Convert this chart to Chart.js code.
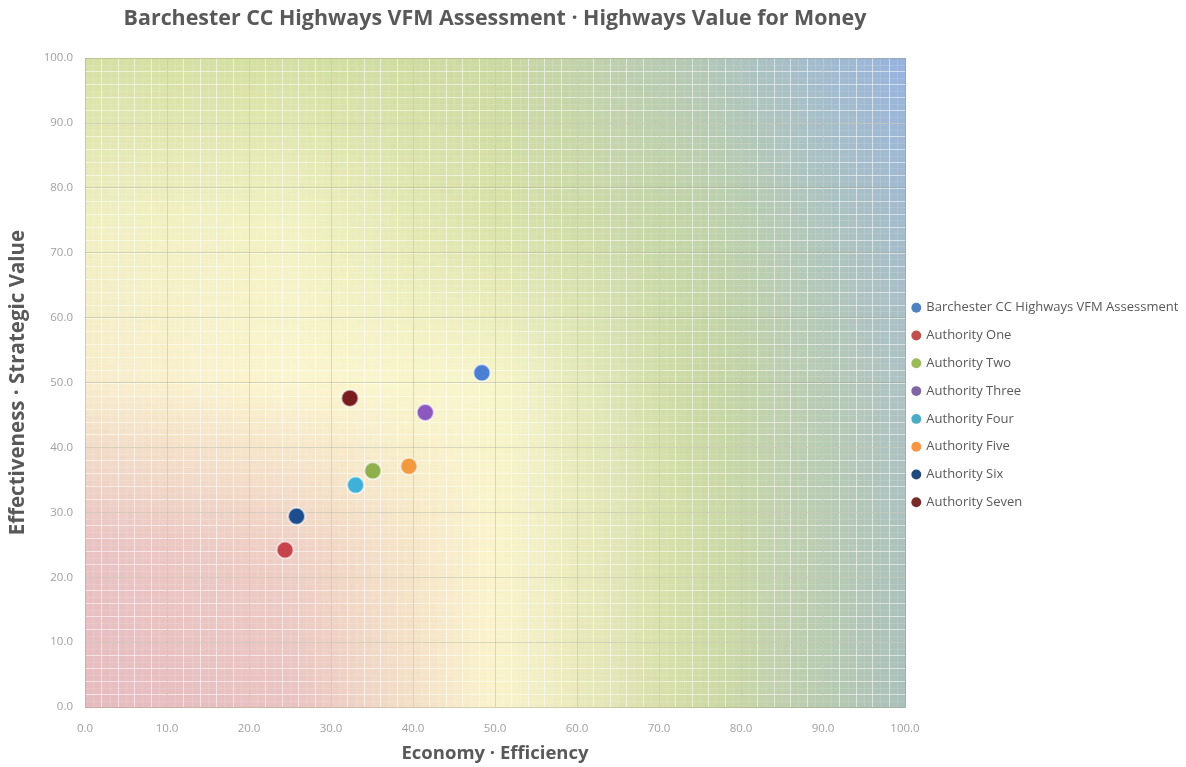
<!DOCTYPE html>
<html>
<head>
<meta charset="utf-8">
<script src="https://cdn.jsdelivr.net/npm/chart.js@4.4.1/dist/chart.umd.min.js"></script>
<style>
  html, body { margin: 0; padding: 0; background: #fff; }
  #wrap { width: 1186px; height: 767px; }
</style>
</head>
<body>
<div id="wrap"><canvas id="vfm"></canvas></div>
<script>
// series names, colours and the single (economy, effectiveness) point for each
const seriesNames = [
    'Barchester CC Highways VFM Assessment',
    'Authority One',
    'Authority Two',
    'Authority Three',
    'Authority Four',
    'Authority Five',
    'Authority Six',
    'Authority Seven'
];
const economyValues = [48.4, 24.4, 35.1, 41.5, 33.0, 39.5, 25.8, 32.3];
const effectivenessValues = [51.5, 24.2, 36.4, 45.4, 34.2, 37.1, 29.4, 47.6];
const seriesColors = ['#4a7fd2', '#c8444c', '#8fb04c', '#8a58bf', '#3fb0d8', '#f29a3e', '#1d4d8c', '#781c1e'];
const legendColors = ['#4f81bd', '#c0504d', '#9bbb59', '#8064a2', '#4bacc6', '#f79646', '#1f497d', '#772c2a'];
const axisTicks = [0, 10, 20, 30, 40, 50, 60, 70, 80, 90, 100];

// background colour field (columns x = 0,25,50,75,100; rows y = 0..100)
const bgField = [
    ['#e6bbc0', '#e9c2c2', '#faf3cc', '#d0dba4', '#a9c0bb'],
    ['#e9c2c3', '#efd0c5', '#faf4cb', '#d0dca5', '#abc1bd'],
    ['#f7eccc', '#fbf5ce', '#f7f5ca', '#c9d8a2', '#adc2c3'],
    ['#f0efc2', '#f1f1c2', '#d9e2a8', '#c1d3a8', '#a3bbcc'],
    ['#d6e0a4', '#d4dfa2', '#ccd9a2', '#b3c7b7', '#97b3df']
];

function hexRgb(h) {
    return [parseInt(h.substr(1, 2), 16), parseInt(h.substr(3, 2), 16), parseInt(h.substr(5, 2), 16)];
}
const bgRgb = bgField.map(row => row.map(hexRgb));

function fieldColor(u, v) {
    // u, v in 0..1, bilinear blend of the colour field
    const fx = Math.min(u * 4, 3.9999), fy = Math.min(v * 4, 3.9999);
    const i = Math.floor(fx), j = Math.floor(fy);
    const tx = fx - i, ty = fy - j;
    const out = [];
    for (let k = 0; k < 3; k++) {
        const a = bgRgb[j][i][k] * (1 - tx) + bgRgb[j][i + 1][k] * tx;
        const b = bgRgb[j + 1][i][k] * (1 - tx) + bgRgb[j + 1][i + 1][k] * tx;
        out.push(Math.round(a * (1 - ty) + b * ty));
    }
    return 'rgb(' + out.join(',') + ')';
}

const backdrop = {
    id: 'backdrop',
    afterLayout(chart) {
        // pull the legend a little closer to the plot
        if (chart.legend) {
            chart.legend.left -= 7;
            chart.legend.right -= 7;
        }
    },
    beforeDraw(chart) {
        const { ctx, chartArea: a, scales } = chart;
        const xs = scales.x, ys = scales.y;
        ctx.save();
        const step = 1;
        for (let gx = 0; gx < 100; gx += step) {
            for (let gy = 0; gy < 100; gy += step) {
                const x0 = xs.getPixelForValue(gx), x1 = xs.getPixelForValue(gx + step);
                const y0 = ys.getPixelForValue(gy + step), y1 = ys.getPixelForValue(gy);
                ctx.fillStyle = fieldColor((gx + step / 2) / 100, (gy + step / 2) / 100);
                ctx.fillRect(Math.floor(x0), Math.floor(y0), Math.ceil(x1 - x0) + 1, Math.ceil(y1 - y0) + 1);
            }
        }
        // fine white mesh
        ctx.lineWidth = 1;
        for (let g = 1; g < 100; g++) {
            ctx.strokeStyle = g % 2 === 0 ? 'rgba(255,255,255,0.55)' : 'rgba(255,255,255,0.12)';
            const px = Math.round(xs.getPixelForValue(g)) + 0.5;
            const py = Math.round(ys.getPixelForValue(g)) + 0.5;
            ctx.beginPath();
            ctx.moveTo(px, a.top); ctx.lineTo(px, a.bottom);
            ctx.moveTo(a.left, py); ctx.lineTo(a.right, py);
            ctx.stroke();
        }
        ctx.restore();
    }
};

const datasets = seriesNames.map((name, i) => ({
    label: name,
    data: [{ x: economyValues[i], y: effectivenessValues[i] }],
    backgroundColor: seriesColors[i],
    borderColor: 'rgba(255,255,255,0.6)',
    borderWidth: 2,
    pointRadius: 8.5,
    pointHoverRadius: 9
}));

const tickFont = { family: 'Open Sans', size: 11.5 };

new Chart(document.getElementById('vfm'), {
    type: 'scatter',
    data: { datasets: datasets },
    options: {
        responsive: true,
        maintainAspectRatio: false,
        animation: false,
        layout: { padding: { left: 6, right: 0, top: 0, bottom: 2 } },
        plugins: {
            title: {
                display: true,
                fullSize: false,
                text: 'Barchester CC Highways VFM Assessment · Highways Value for Money',
                color: '#595959',
                font: { family: 'Open Sans', size: 21.4, weight: 'bold' },
                padding: { top: 6, bottom: 26.5 }
            },
            legend: {
                position: 'right',
                align: 'center',
                maxWidth: 281,
                title: { display: true, text: ' ', font: { size: 10 }, padding: { top: 17, bottom: 16 } },
                labels: {
                    usePointStyle: true,
                    pointStyle: 'circle',
                    boxWidth: 7,
                    boxHeight: 7,
                    padding: 14.8,
                    color: '#595959',
                    font: { family: 'Open Sans', size: 13 },
                    generateLabels(chart) {
                        return chart.data.datasets.map((ds, i) => ({
                            text: ds.label,
                            fillStyle: legendColors[i],
                            strokeStyle: legendColors[i],
                            lineWidth: 0,
                            pointStyle: 'circle',
                            datasetIndex: i,
                            fontColor: '#595959'
                        }));
                    }
                }
            },
            tooltip: { enabled: true }
        },
        scales: {
            x: {
                type: 'linear',
                min: 0,
                max: 100,
                afterBuildTicks(scale) { scale.ticks = axisTicks.map(v => ({ value: v })); },
                ticks: { color: '#a0a0a0', font: tickFont, padding: 15, callback: v => v.toFixed(1) },
                grid: { color: 'rgba(150,150,115,0.35)', drawTicks: false },
                border: { display: false },
                title: {
                    display: true,
                    text: 'Economy · Efficiency',
                    color: '#595959',
                    font: { family: 'Open Sans', size: 18.5, weight: 'bold' },
                    padding: { top: 4, bottom: 0 }
                },
                afterFit(scale) { scale.height = 58; }
            },
            y: {
                type: 'linear',
                min: 0,
                max: 100,
                afterBuildTicks(scale) { scale.ticks = axisTicks.map(v => ({ value: v })); },
                ticks: { color: '#a0a0a0', font: tickFont, padding: 12, callback: v => v.toFixed(1) },
                grid: { color: 'rgba(150,150,115,0.35)', drawTicks: false },
                border: { display: false },
                title: {
                    display: true,
                    text: 'Effectiveness · Strategic Value',
                    color: '#595959',
                    font: { family: 'Open Sans', size: 20.5, weight: 'bold' },
                    padding: { top: 0, bottom: 4 }
                },
                afterFit(scale) { scale.width = 79; }
            }
        }
    },
    plugins: [backdrop]
});
</script>
</body>
</html>
